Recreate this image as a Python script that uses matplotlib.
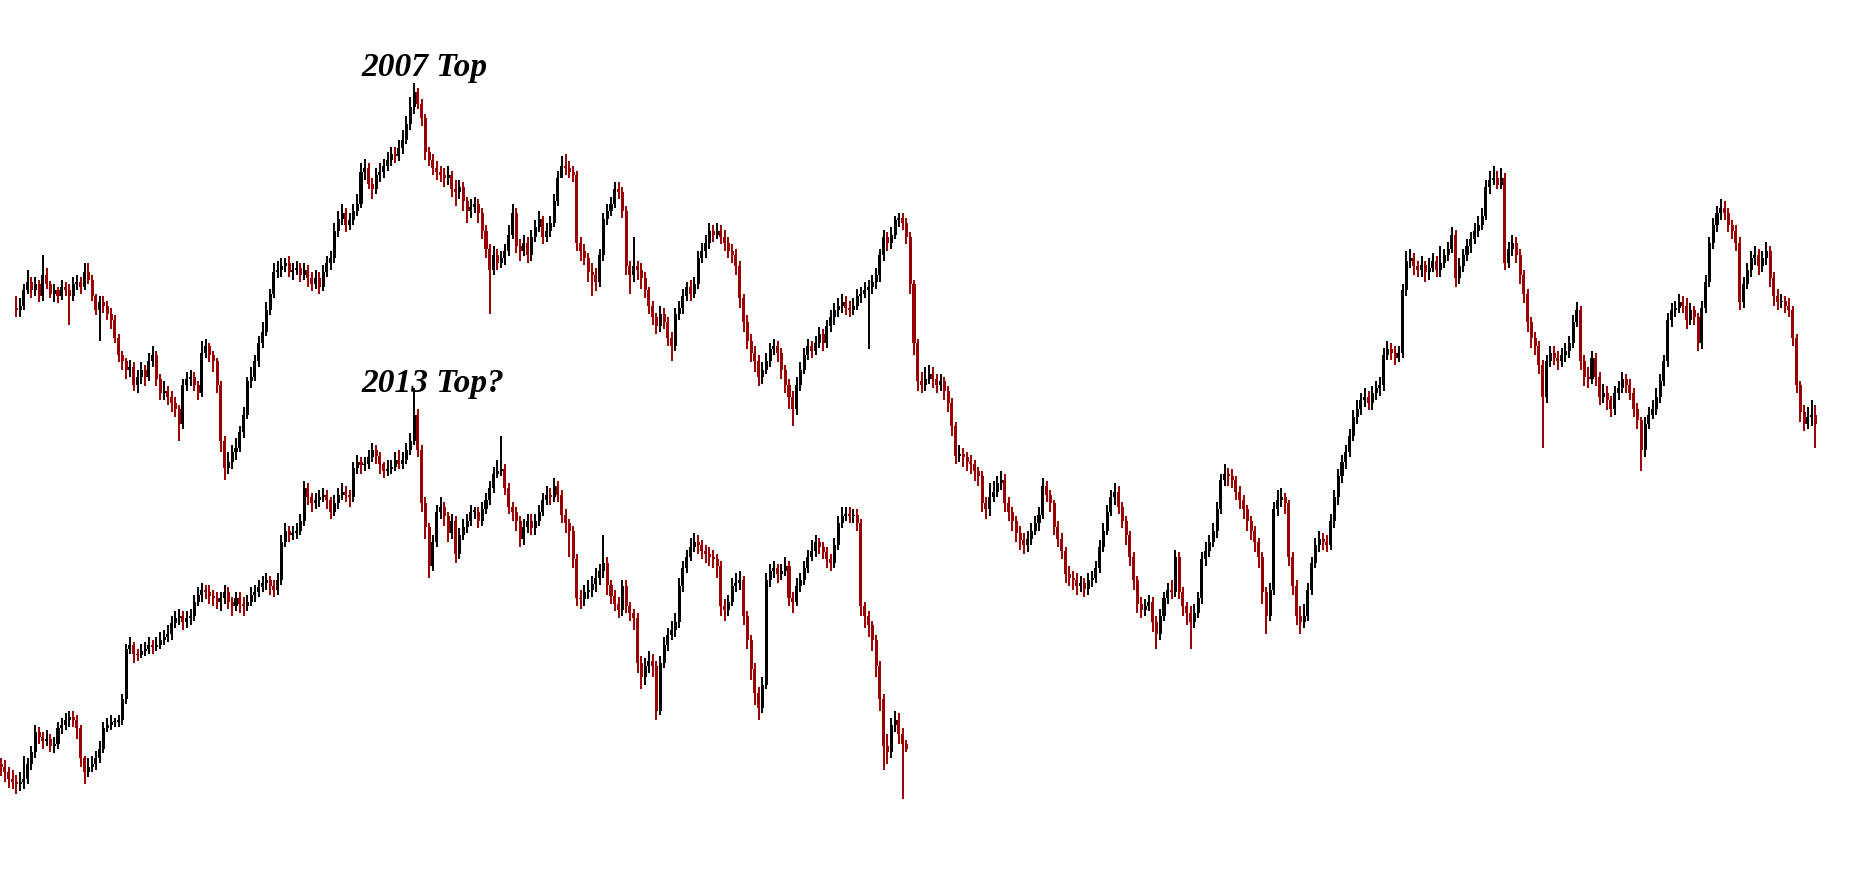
import numpy as np
import matplotlib
matplotlib.use("Agg")
import matplotlib.pyplot as plt

# series 1 : the 2007 run (index levels, no scale shown on the chart)
s1_open0 = 540
s1_close = [538,542,555,562,555,560,550,568,560,552,
            555,550,558,555,550,560,562,558,570,564,
            550,538,545,542,535,530,515,500,495,488,
            490,475,482,488,482,495,500,480,468,470,
            465,460,455,442,475,480,482,475,468,502,
            508,500,495,475,428,405,410,418,422,435,
            450,478,482,495,510,520,538,552,570,572,
            575,578,570,572,574,568,572,565,560,565,
            558,570,578,582,605,615,620,610,614,622,
            628,655,658,645,640,652,655,660,665,670,
            668,675,682,695,710,722,712,700,672,665,
            658,655,652,650,652,640,638,642,630,622,
            625,628,620,605,590,572,585,578,582,588,
            602,620,592,588,595,585,600,608,615,600,
            605,612,630,650,660,658,655,652,595,588,
            582,570,568,562,585,615,622,628,640,638,
            622,575,568,575,572,565,555,542,532,525,
            535,528,515,508,535,540,550,558,552,560,
            582,588,595,605,602,605,600,595,588,585,
            575,548,528,512,502,495,482,488,495,505,
            508,502,488,475,465,455,475,488,500,508,
            504,510,518,510,525,532,538,542,545,540,
            538,542,550,552,555,558,562,568,585,600,
            595,602,614,616,612,600,560,510,478,475,
            480,484,480,475,478,470,460,440,415,417,
            414,410,408,402,398,375,370,380,385,392,
            395,375,368,360,350,344,340,345,352,358,
            365,390,382,375,355,345,335,315,312,310,
            305,308,303,310,312,320,338,352,368,380,
            385,372,360,348,330,310,290,285,288,292,
            275,265,280,295,302,300,330,300,288,282,
            275,282,295,328,335,342,352,370,395,400,
            398,395,385,378,370,360,352,342,330,300,
            280,302,370,378,380,375,330,305,280,275,
            280,302,325,340,345,342,340,360,380,398,
            410,418,432,448,455,462,465,460,468,472,
            475,500,505,502,498,502,555,580,582,575,
            572,576,570,574,580,572,578,585,590,602,
            565,575,585,592,598,605,610,618,642,648,
            650,644,650,578,590,595,585,568,552,528,
            515,508,492,465,495,502,498,495,500,504,
            510,528,538,495,482,480,498,482,465,468,
            462,455,468,472,480,475,468,455,445,420,
            442,450,455,465,478,495,530,538,540,545,
            542,530,538,532,510,540,562,595,610,620,
            624,620,610,605,595,545,560,572,582,585,
            575,582,588,565,550,545,546,542,538,515,
            475,452,442,448,450,442]
s1_high = [550,548,560,572,566,566,564,585,574,563,
           560,558,564,562,560,566,568,566,578,578,
           568,552,550,550,546,540,534,518,504,498,
           496,494,488,494,492,502,508,504,484,478,
           474,470,465,458,480,486,488,486,478,512,
           514,510,504,498,478,432,418,424,430,440,
           456,482,490,500,516,528,545,556,578,580,
           582,582,584,578,580,578,578,576,570,572,
           570,576,584,588,612,622,628,624,620,628,
           636,662,666,662,650,658,662,666,672,676,
           676,682,690,702,718,730,726,716,704,676,
           670,664,660,658,660,656,648,648,646,634,
           632,634,632,624,610,594,592,590,588,594,
           610,628,624,598,602,600,606,614,622,618,
           612,618,636,656,668,670,664,660,656,600,
           594,586,578,574,590,620,628,634,646,646,
           642,626,580,600,580,578,570,558,546,536,
           542,540,532,520,540,546,556,562,564,566,
           588,595,602,612,610,612,610,606,600,594,
           590,580,552,534,518,508,500,494,502,510,
           514,512,506,492,480,470,482,494,506,514,
           512,516,524,522,530,538,544,548,552,550,
           546,548,556,558,562,564,568,574,590,606,
           604,608,618,620,620,616,604,564,514,486,
           490,492,490,484,484,482,474,464,444,424,
           422,418,416,412,406,402,380,392,394,398,
           402,400,380,372,364,356,350,352,358,364,
           372,396,394,386,378,360,350,338,322,318,
           316,314,312,316,318,326,344,358,374,386,
           392,390,376,364,352,334,314,296,294,298,
           296,280,286,300,308,310,336,334,304,292,
           288,290,300,334,342,348,358,376,400,408,
           405,404,398,390,382,374,364,356,346,334,
           304,308,376,386,388,384,378,334,310,288,
           290,308,330,346,352,350,348,366,386,404,
           416,424,438,454,462,468,472,470,474,478,
           482,506,512,510,508,508,560,588,590,586,
           580,584,580,582,586,584,592,590,596,608,
           606,582,590,598,604,612,618,624,648,656,
           660,656,658,654,596,602,600,590,572,556,
           532,520,512,496,500,508,508,504,506,510,
           516,534,545,542,500,490,504,502,486,476,
           474,466,474,478,486,484,480,472,460,448,
           448,456,462,472,484,500,536,544,546,552,
           550,548,544,542,536,546,568,600,616,626,
           632,630,624,614,610,600,566,578,588,592,
           590,588,596,592,570,556,552,550,548,542,
           518,478,458,456,462,458]
s1_low = [532,532,538,552,548,550,545,546,556,548,
          545,544,547,550,526,546,555,552,555,560,
          546,534,512,536,530,522,510,494,488,480,
          482,470,468,476,474,478,490,474,462,462,
          458,452,448,428,438,470,474,470,462,465,
          498,494,486,468,418,395,400,404,412,418,
          430,446,472,478,490,506,516,534,548,565,
          566,570,566,564,568,562,564,558,554,556,
          552,554,566,572,578,600,610,604,606,610,
          618,624,648,640,632,636,646,650,656,660,
          662,664,670,678,690,704,708,694,665,660,
          652,648,646,642,644,634,626,632,622,612,
          616,620,612,598,582,535,568,572,574,576,
          584,598,586,580,584,578,580,596,604,594,
          596,600,608,626,654,652,650,646,588,580,
          576,562,550,554,558,580,610,618,624,632,
          616,568,552,562,564,556,548,535,526,518,
          520,522,508,495,504,530,535,546,546,548,
          556,578,582,590,596,598,594,588,582,578,
          568,540,520,505,494,486,474,476,484,490,
          500,494,480,468,455,440,450,470,484,496,
          498,500,506,504,506,520,526,532,536,534,
          532,534,538,544,548,505,552,556,562,580,
          588,590,598,608,606,594,552,500,470,468,
          470,476,472,468,470,462,452,432,408,410,
          406,402,400,394,390,368,362,364,376,380,
          386,368,360,352,342,336,332,334,340,348,
          352,362,376,368,348,338,328,308,305,302,
          298,300,296,298,304,308,316,334,348,364,
          374,366,354,340,322,302,282,278,280,284,
          266,252,260,276,290,294,296,294,280,272,
          252,270,278,290,322,330,338,346,366,390,
          390,388,378,370,362,352,344,334,320,290,
          265,276,298,364,372,366,322,298,272,265,
          270,276,298,320,334,336,334,336,354,374,
          392,404,414,428,442,450,456,454,454,462,
          466,470,496,496,492,494,498,550,574,568,
          566,566,562,564,570,566,566,574,580,586,
          558,560,570,580,586,594,600,606,614,636,
          644,640,640,572,574,584,578,560,544,520,
          506,500,484,422,460,490,492,488,490,494,
          498,506,524,488,474,472,476,474,458,460,
          454,448,450,462,468,468,462,448,438,402,
          414,438,446,450,460,474,490,524,532,536,
          536,522,526,526,504,505,536,558,590,604,
          614,614,604,598,588,538,540,556,566,576,
          568,570,576,558,542,538,540,536,532,508,
          468,444,436,438,440,422]

# series 2 : the 2013 run, lined up on the same bars
s2_open0 = 155
s2_close = [152,148,142,140,138,140,142,155,165,182,
            178,174,176,170,172,185,188,192,195,192,
            185,160,148,152,155,160,168,185,188,190,
            190,192,210,252,255,248,247,250,252,255,
            254,255,260,262,265,274,278,280,275,278,
            280,292,298,302,300,297,295,292,295,300,
            292,288,295,290,288,292,298,300,304,308,
            310,305,302,310,342,352,348,350,352,360,
            388,380,375,378,380,382,378,368,375,382,
            385,382,380,405,410,407,408,414,420,415,
            408,402,404,406,412,408,412,420,428,450,
            420,375,355,322,342,368,372,364,350,360,
            332,348,355,360,368,368,360,370,378,388,
            400,402,404,388,372,368,360,345,355,360,
            354,360,368,378,382,380,390,382,365,358,
            352,328,295,294,300,302,307,312,318,325,
            306,297,290,285,305,288,282,278,240,228,
            238,242,238,200,240,255,264,268,275,305,
            320,330,338,342,340,335,332,330,328,322,
            288,285,292,305,308,310,280,260,235,215,
            202,222,310,318,320,315,318,322,295,292,
            305,310,320,330,335,342,338,334,328,325,
            340,358,364,366,364,365,358,288,280,272,
            260,238,210,170,165,188,192,180,172,168]
s2_high = [160,158,152,150,146,148,162,160,170,188,
           186,182,184,180,178,190,194,198,200,200,
           196,188,162,160,162,166,174,190,194,196,
           194,196,214,256,262,258,252,256,258,262,
           260,262,266,268,272,280,284,286,284,284,
           286,298,304,308,306,306,302,300,300,306,
           304,296,300,300,296,298,304,306,310,314,
           316,314,310,316,348,358,356,356,358,366,
           394,392,384,384,386,388,386,380,382,388,
           392,390,386,410,416,414,414,420,426,424,
           418,410,412,412,418,420,418,426,434,472,
           455,424,380,358,348,374,380,376,368,366,
           364,354,362,366,374,372,372,376,384,394,
           406,412,432,408,392,376,372,364,362,366,
           366,366,374,384,390,388,396,394,386,370,
           362,356,332,302,306,310,314,320,324,348,
           330,310,302,296,310,310,292,286,282,246,
           244,250,248,242,246,262,270,276,282,312,
           326,336,346,350,348,344,340,338,336,332,
           326,294,298,312,316,318,314,284,264,240,
           220,228,316,324,326,324,324,330,326,300,
           312,316,326,336,344,348,346,342,338,332,
           346,364,372,372,372,370,370,362,292,284,
           276,264,242,214,180,194,200,198,185,175]
s2_low = [145,140,135,134,130,132,134,138,150,160,
          172,168,170,165,164,168,180,184,186,186,
          176,152,138,144,148,150,156,164,182,184,
          186,186,188,206,248,240,242,244,246,248,
          248,250,252,255,258,260,270,272,268,270,
          272,276,288,292,294,290,288,286,284,290,
          286,280,284,282,280,284,288,292,296,300,
          302,298,296,298,306,338,342,344,345,348,
          356,374,368,370,372,376,370,362,364,370,
          378,376,372,376,400,400,402,404,410,408,
          400,396,398,400,402,404,404,408,416,424,
          414,368,345,312,318,338,362,356,342,345,
          325,328,344,350,356,362,354,356,366,374,
          384,396,398,382,366,360,352,338,340,350,
          348,348,356,364,374,374,376,376,358,350,
          330,320,288,286,288,294,296,300,306,312,
          298,290,284,278,280,282,276,268,232,218,
          222,232,228,192,196,236,250,260,262,270,
          300,316,326,334,332,328,325,322,320,312,
          280,276,280,288,300,302,272,252,226,205,
          192,198,218,304,312,308,310,314,288,282,
          288,300,306,316,326,330,332,328,320,318,
          320,336,354,360,358,358,352,280,270,262,
          250,228,200,150,155,160,182,172,125,165]
s1_start_bar = 4   # series 1 begins four bars after series 2

UP = "#000000"
DOWN = "#9a0000"


def candles(ax, first_bar, open0, close, high, low):
    close = np.asarray(close, dtype=float)
    opens = np.r_[open0, close[:-1]]
    x = first_bar + np.arange(len(close))
    colors = np.where(close >= opens, UP, DOWN)
    ax.vlines(x, low, high, colors=colors, linewidth=1.4)
    bottom = np.minimum(opens, close)
    height = np.maximum(np.abs(close - opens), 1.0)
    ax.bar(x, height, bottom=bottom, width=0.8, color=colors, linewidth=0)


fig = plt.figure(figsize=(18.56, 8.93), dpi=100)
ax = fig.add_axes([0, 0, 1, 1])
candles(ax, s1_start_bar, s1_open0, s1_close, s1_high, s1_low)
candles(ax, 0, s2_open0, s2_close, s2_high, s2_low)

font = dict(family="Liberation Serif", fontweight="bold", fontstyle="italic",
            fontsize=24, color="black")
ax.text(95, 736, "2007 Top", va="baseline", **font)
ax.text(95, 469, "2013 Top?", va="baseline", **font)

ax.set_xlim(-0.31, 489.7)
ax.set_ylim(46, 800)
ax.axis("off")
fig.savefig("out.png", dpi=100)
